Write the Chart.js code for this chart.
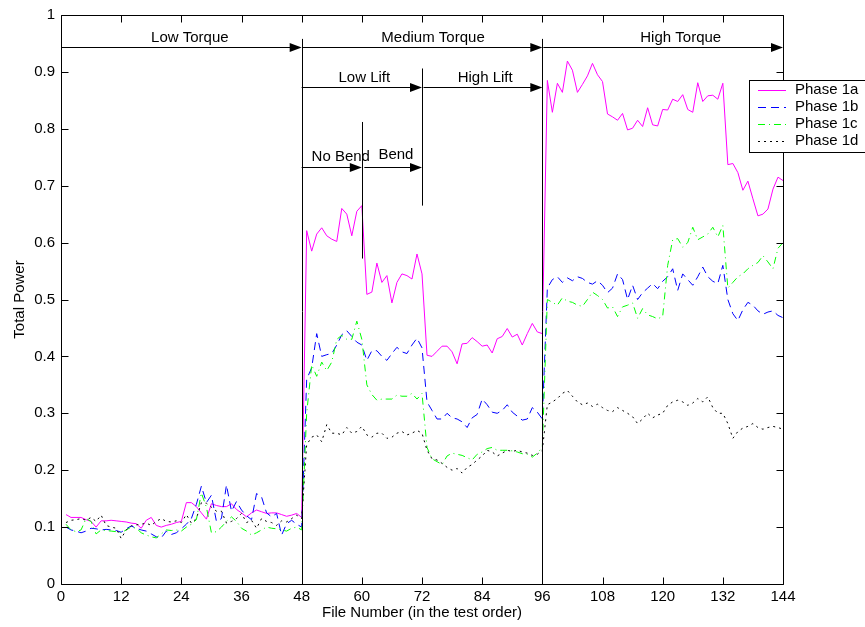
<!DOCTYPE html>
<html>
<head>
<meta charset="utf-8">
<script src="https://cdn.jsdelivr.net/npm/chart.js@4.4.0/dist/chart.umd.min.js"></script>
<style>
html,body{margin:0;padding:0;background:#fff;}
canvas{display:block;}
</style>
</head>
<body>
<canvas id="c" width="865" height="627"></canvas>
<script>
// ---------- data ----------
const firstFile = 1;
const xTicks = [0,12,24,36,48,60,72,84,96,108,120,132,144];
const yTicks = [0,0.1,0.2,0.3,0.4,0.5,0.6,0.7,0.8,0.9,1];
const seriesNames = ['Phase 1a','Phase 1b','Phase 1c','Phase 1d'];

const phase1a = [
 0.122,0.117,0.117,0.117,0.113,0.110,0.100,0.111,0.111,0.112,
 0.111,0.110,0.109,0.107,0.106,0.098,0.112,0.117,0.103,0.100,
 0.103,0.105,0.108,0.110,0.143,0.143,0.136,0.125,0.114,0.141,
 0.138,0.136,0.136,0.141,0.131,0.125,0.118,0.125,0.130,0.127,
 0.124,0.125,0.125,0.122,0.119,0.121,0.124,0.117,
 0.621,0.585,0.615,0.626,0.612,0.606,0.602,0.660,0.650,0.612,
 0.655,0.665,0.509,0.513,0.564,0.530,0.542,0.494,0.530,0.545,
 0.542,0.536,0.580,0.545,0.402,0.400,0.409,0.418,0.418,0.408,
 0.387,0.422,0.423,0.433,0.426,0.418,0.420,0.406,0.431,0.435,
 0.449,0.434,0.439,0.420,0.440,0.458,0.443,0.440,
 0.885,0.829,0.880,0.864,0.919,0.903,0.864,0.878,0.893,0.915,
 0.895,0.883,0.826,0.821,0.815,0.827,0.798,0.801,0.815,0.804,
 0.837,0.807,0.805,0.834,0.833,0.852,0.848,0.860,0.834,0.829,
 0.881,0.848,0.858,0.859,0.852,0.880,0.737,0.739,0.723,0.692,
 0.708,0.677,0.647,0.650,0.659,0.694,0.715,0.709
];
const phase1b = [
 0.100,0.095,0.093,0.090,0.093,0.098,0.097,0.095,0.096,0.095,
 0.094,0.091,0.097,0.102,0.098,0.095,0.093,0.088,0.083,0.081,
 0.093,0.087,0.090,0.097,0.105,0.115,0.140,0.172,0.143,0.156,
 0.110,0.115,0.174,0.128,0.145,0.130,0.120,0.113,0.159,0.153,
 0.125,0.118,0.124,0.086,0.106,0.112,0.105,0.100,
 0.360,0.380,0.440,0.400,0.403,0.405,0.420,0.438,0.445,0.435,
 0.425,0.420,0.393,0.410,0.410,0.400,0.393,0.405,0.416,0.408,
 0.405,0.420,0.432,0.415,0.320,0.305,0.290,0.290,0.300,0.292,
 0.290,0.285,0.275,0.292,0.298,0.325,0.315,0.302,0.300,0.305,
 0.315,0.302,0.295,0.288,0.290,0.310,0.302,0.290,
 0.520,0.535,0.540,0.530,0.538,0.533,0.540,0.537,0.530,0.527,
 0.533,0.525,0.512,0.520,0.545,0.535,0.500,0.525,0.500,0.512,
 0.520,0.528,0.519,0.532,0.540,0.554,0.516,0.545,0.535,0.525,
 0.540,0.557,0.540,0.532,0.528,0.560,0.500,0.475,0.463,0.482,
 0.495,0.490,0.480,0.474,0.478,0.480,0.472,0.468
];
const phase1c = [
 0.105,0.095,0.092,0.095,0.115,0.110,0.088,0.095,0.094,0.093,
 0.092,0.090,0.095,0.100,0.098,0.090,0.086,0.083,0.081,0.088,
 0.095,0.094,0.095,0.093,0.100,0.105,0.113,0.160,0.135,0.090,
 0.092,0.100,0.110,0.118,0.110,0.098,0.093,0.086,0.090,0.095,
 0.100,0.098,0.097,0.095,0.093,0.098,0.100,0.095,
 0.300,0.385,0.365,0.390,0.375,0.390,0.430,0.437,0.430,0.430,
 0.462,0.430,0.350,0.333,0.323,0.325,0.325,0.325,0.332,0.330,
 0.330,0.335,0.325,0.335,0.240,0.220,0.215,0.210,0.225,0.230,
 0.228,0.226,0.222,0.218,0.228,0.232,0.238,0.240,0.235,0.235,
 0.235,0.234,0.232,0.229,0.228,0.223,0.230,0.240,
 0.500,0.495,0.490,0.503,0.497,0.495,0.490,0.488,0.500,0.513,
 0.507,0.500,0.485,0.487,0.470,0.487,0.490,0.494,0.467,0.484,
 0.473,0.470,0.466,0.470,0.560,0.605,0.607,0.592,0.600,0.627,
 0.605,0.610,0.615,0.627,0.610,0.630,0.520,0.530,0.540,0.545,
 0.554,0.560,0.565,0.577,0.566,0.554,0.590,0.600
];
const phase1d = [
 0.108,0.112,0.113,0.115,0.112,0.117,0.110,0.121,0.103,0.100,
 0.098,0.080,0.095,0.102,0.104,0.105,0.107,0.103,0.110,0.115,
 0.110,0.109,0.111,0.108,0.122,0.107,0.115,0.143,0.142,0.135,
 0.128,0.128,0.107,0.110,0.115,0.124,0.108,0.112,0.098,0.115,
 0.110,0.108,0.103,0.111,0.109,0.115,0.121,0.115,
 0.245,0.258,0.262,0.250,0.280,0.265,0.265,0.262,0.275,0.265,
 0.268,0.277,0.262,0.258,0.265,0.265,0.256,0.258,0.265,0.268,
 0.262,0.265,0.270,0.265,0.235,0.220,0.218,0.212,0.205,0.200,
 0.203,0.195,0.205,0.210,0.218,0.225,0.235,0.232,0.225,0.230,
 0.235,0.233,0.235,0.232,0.230,0.226,0.228,0.235,
 0.315,0.320,0.326,0.335,0.340,0.330,0.320,0.315,0.318,0.312,
 0.316,0.310,0.305,0.303,0.310,0.305,0.300,0.294,0.282,0.290,
 0.300,0.292,0.297,0.300,0.314,0.320,0.323,0.320,0.314,0.318,
 0.326,0.320,0.329,0.310,0.300,0.300,0.282,0.256,0.268,0.274,
 0.277,0.282,0.275,0.272,0.275,0.277,0.275,0.272
];

// annotation texts (data coordinates)
const regionLabels = [
  {text:'Low Torque', x:25.7, y:0.96},
  {text:'Medium Torque', x:74.2, y:0.96},
  {text:'High Torque', x:123.6, y:0.96},
  {text:'Low Lift', x:60.5, y:0.889},
  {text:'High Lift', x:84.6, y:0.889},
  {text:'No Bend', x:55.8, y:0.751},
  {text:'Bend', x:66.8, y:0.755}
];
const regionArrows = [
  {from:0, to:48, y:0.944},
  {from:48.2, to:96, y:0.944},
  {from:96.2, to:144, y:0.944},
  {from:48, to:72, y:0.874},
  {from:72.3, to:96, y:0.874},
  {from:48, to:60, y:0.733},
  {from:60.5, to:72, y:0.733}
];
const regionDividers = [
  {x:48, y0:0, y1:0.958},
  {x:96, y0:0, y1:0.958},
  {x:72, y0:0.665, y1:0.906},
  {x:60, y0:0.572, y1:0.812}
];

// ---------- chart ----------
const FONT = 'Liberation Sans, Arial, Helvetica, sans-serif';
const colors = ['rgb(255,0,255)','rgb(0,0,255)','rgb(0,255,0)','rgb(0,0,0)'];
const dashes = [[], [8,5], [7,4,1,4], [2,4]];
const allSeries = [phase1a, phase1b, phase1c, phase1d];

const datasets = allSeries.map((s,k)=>({
  label: seriesNames[k],
  data: s.map((v,i)=>({x:firstFile+i, y:v})),
  borderColor: colors[k],
  borderWidth: 1,
  borderDash: dashes[k],
  pointRadius: 0,
  tension: 0,
  fill: false,
  order: 3-k
}));

function drawArrow(ctx, x0, x1, y){
  ctx.beginPath();
  ctx.moveTo(x0, y); ctx.lineTo(x1-10, y);
  ctx.stroke();
  ctx.beginPath();
  ctx.moveTo(x1, y); ctx.lineTo(x1-12, y-4.5); ctx.lineTo(x1-12, y+4.5); ctx.closePath();
  ctx.fill();
}

const decor = {
  id:'decor',
  afterDatasetsDraw(chart){
    const {ctx, chartArea:a, scales:{x,y}} = chart;
    ctx.save();
    ctx.strokeStyle = '#000'; ctx.fillStyle = '#000'; ctx.lineWidth = 1;
    ctx.setLineDash([]);
    regionDividers.forEach(d=>{
      const px = Math.round(x.getPixelForValue(d.x))+0.5;
      ctx.beginPath();
      ctx.moveTo(px, y.getPixelForValue(d.y0));
      ctx.lineTo(px, y.getPixelForValue(d.y1));
      ctx.stroke();
    });
    regionArrows.forEach(r=>{
      const py = Math.round(y.getPixelForValue(r.y))+0.5;
      drawArrow(ctx, x.getPixelForValue(r.from), x.getPixelForValue(r.to), py);
    });
    ctx.font = '15px ' + FONT;
    ctx.textAlign = 'center'; ctx.textBaseline = 'middle';
    regionLabels.forEach(l=>{
      ctx.fillText(l.text, x.getPixelForValue(l.x), y.getPixelForValue(l.y));
    });
    const L = a.left+0.5, R = Math.round(a.right)+0.5, T = a.top+0.5, B = Math.round(a.bottom)+0.5;
    ctx.beginPath();
    ctx.rect(L, T, R-L, B-T);
    ctx.stroke();
    ctx.beginPath();
    xTicks.forEach(v=>{
      const px = Math.round(x.getPixelForValue(v))+0.5;
      ctx.moveTo(px, B); ctx.lineTo(px, B-7);
      ctx.moveTo(px, T); ctx.lineTo(px, T+7);
    });
    yTicks.forEach(v=>{
      const py = Math.round(y.getPixelForValue(v))+0.5;
      ctx.moveTo(L, py); ctx.lineTo(L+7, py);
      ctx.moveTo(R, py); ctx.lineTo(R-7, py);
    });
    ctx.stroke();
    ctx.restore();
  },
  afterDraw(chart){
    const {ctx} = chart;
    ctx.save();
    const bx = 749.5, by = 80.5, bw = 130, bh = 72;
    ctx.fillStyle = '#fff';
    ctx.fillRect(bx, by, bw, bh);
    ctx.strokeStyle = '#000'; ctx.lineWidth = 1; ctx.setLineDash([]);
    ctx.strokeRect(bx, by, bw, bh);
    ctx.font = '15px ' + FONT;
    ctx.textAlign = 'left'; ctx.textBaseline = 'middle';
    const rows = [90, 107, 124, 141];
    chart.data.datasets.forEach((ds,k)=>{
      const yy = rows[k] + 0.5;
      ctx.strokeStyle = ds.borderColor;
      ctx.setLineDash(ds.borderDash);
      ctx.beginPath(); ctx.moveTo(758, yy); ctx.lineTo(786, yy); ctx.stroke();
      ctx.setLineDash([]);
      ctx.fillStyle = '#000';
      ctx.fillText(ds.label, 795, rows[k]);
    });
    ctx.restore();
  }
};

new Chart(document.getElementById('c'), {
  type: 'line',
  data: { datasets },
  options: {
    responsive: false,
    devicePixelRatio: 1,
    animation: false,
    layout: { padding: { top: 14, right: 82, left: 0, bottom: 0 } },
    plugins: { legend: { display: false }, tooltip: { enabled: false } },
    scales: {
      x: {
        type: 'linear', min: 0, max: 144,
        afterBuildTicks(s){ s.ticks = xTicks.map(v=>({value:v})); },
        afterFit(s){ s.height = 43; },
        grid: { display: false, drawTicks: false },
        border: { display: false },
        ticks: { color:'#000', font:{ family: FONT, size: 15 }, padding: 4, maxRotation: 0, autoSkip: false,
                 callback: v => String(v) },
        title: { display: true, text: 'File Number (in the test order)', color:'#000',
                 font:{ family: FONT, size: 15 }, padding: { top: 0, bottom: 5 } }
      },
      y: {
        type: 'linear', min: 0, max: 1,
        afterBuildTicks(s){ s.ticks = yTicks.map(v=>({value:v})); },
        afterFit(s){ s.width = 61; },
        grid: { display: false, drawTicks: false },
        border: { display: false },
        ticks: { color:'#000', font:{ family: FONT, size: 15 }, padding: 6, autoSkip: false,
                 callback: v => String(Math.round(v*10)/10) },
        title: { display: true, text: 'Total Power', color:'#000',
                 font:{ family: FONT, size: 15 }, padding: { top: 11, bottom: 0 } }
      }
    }
  },
  plugins: [decor]
});
</script>
</body>
</html>
